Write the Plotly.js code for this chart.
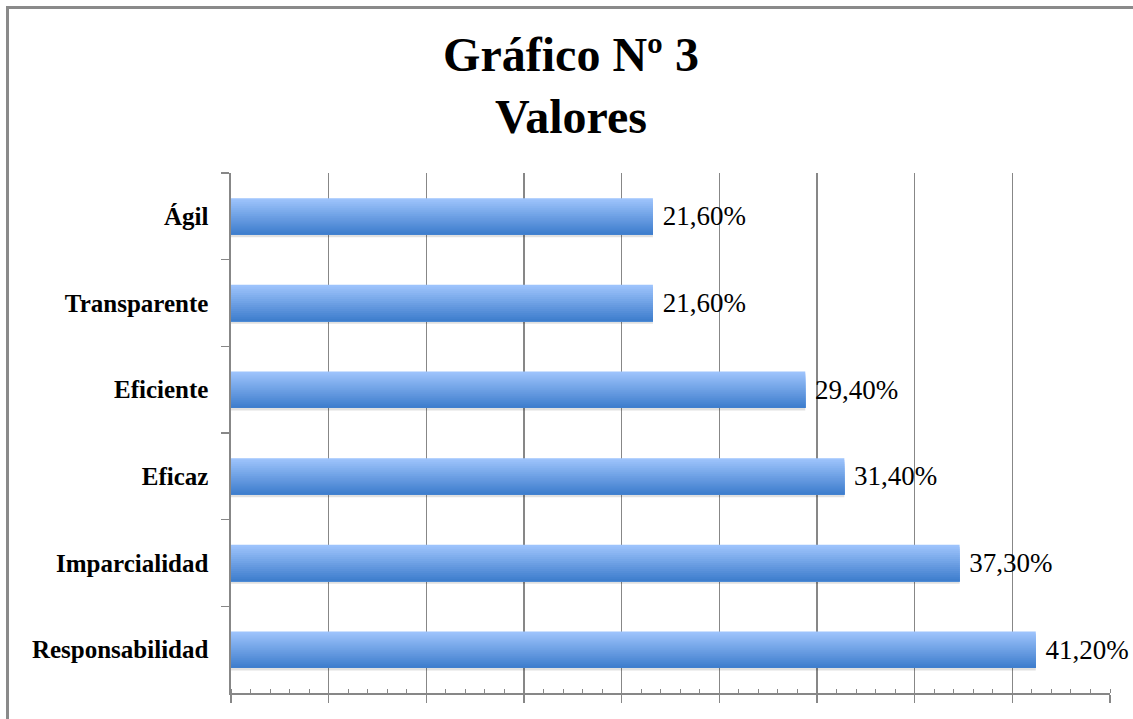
<!DOCTYPE html>
<html>
<head>
<meta charset="utf-8">
<script src="https://cdn.plot.ly/plotly-3.0.1.min.js"></script>
<style>
  html, body { margin: 0; padding: 0; background: #ffffff; width: 1133px; height: 719px; overflow: hidden; }
  #frame { position: absolute; left: 6px; top: 6px; border-left: 3px solid #8a8a8a; border-top: 3px solid #8a8a8a; }
  #chart { width: 1124px; height: 710px; }
</style>
</head>
<body>
<div id="frame"><div id="chart"></div></div>
<script>
// Data (top to bottom as shown)
const categories = ['Ágil', 'Transparente', 'Eficiente', 'Eficaz', 'Imparcialidad', 'Responsabilidad'];
const values = [21.6, 21.6, 29.4, 31.4, 37.3, 41.2];
const chartTitle = 'Gráfico Nº 3<br>Valores';

// Styling
const barWidth = 0.42;
const nStrips = 18;
const topColor = [160, 197, 253];
const botColor = [60, 124, 204];
const serif = '"Liberation Serif", "Times New Roman", serif';

const traces = [];

// soft shadow under the bars
traces.push({
  type: 'bar', orientation: 'h', x: values, y: categories,
  width: 0.05, offset: barWidth / 2 - 0.02,
  marker: { color: 'rgba(0,0,0,0.12)', line: { width: 0 } },
  hoverinfo: 'skip', showlegend: false
});

// vertical gradient: each layer runs from its start down to the bar bottom
const sw = barWidth / nStrips;
for (let i = 0; i < nStrips; i++) {
  const t = (i + 0.5) / nStrips; // 0 = top, 1 = bottom (y axis reversed)
  const c = topColor.map((v, k) => Math.round(v + (botColor[k] - v) * t));
  traces.push({
    type: 'bar', orientation: 'h', x: values, y: categories,
    width: barWidth - i * sw, offset: -barWidth / 2 + i * sw,
    marker: { color: 'rgb(' + c.join(',') + ')', line: { width: 0 } },
    hoverinfo: 'skip', showlegend: false
  });
}

// transparent full bar carrying the value labels
traces.push({
  type: 'bar', orientation: 'h', x: values, y: categories,
  width: barWidth, offset: -barWidth / 2,
  marker: { color: 'rgba(0,0,0,0)', line: { width: 0 } },
  texttemplate: '\u00a0%{x:.2f}%', textposition: 'outside', constraintext: 'none',
  cliponaxis: false,
  textfont: { family: serif, size: 27, color: '#000000' },
  hoverinfo: 'skip', showlegend: false
});

const layout = {
  width: 1124, height: 710,
  paper_bgcolor: '#ffffff', plot_bgcolor: '#ffffff',
  margin: { l: 222, r: 23, t: 164, b: 26 },
  barmode: 'overlay',
  separators: ',.',
  showlegend: false,
  title: {
    text: chartTitle,
    font: { family: serif, size: 48, color: '#000000', weight: 'bold' },
    x: 0.5, xref: 'container', xanchor: 'center',
    y: 1 - 62 / 710, yref: 'container', yanchor: 'middle'
  },
  xaxis: {
    range: [0, 45], dtick: 5, tick0: 0,
    showgrid: true, gridcolor: '#878787', gridwidth: 1.6,
    showticklabels: false,
    ticks: 'outside', ticklen: 8, tickwidth: 1.6, tickcolor: '#878787',
    minor: { dtick: 1, ticks: 'inside', ticklen: 4, tickwidth: 1, tickcolor: '#878787', showgrid: false },
    showline: true, linecolor: '#878787', linewidth: 1.6,
    zeroline: false, fixedrange: true
  },
  yaxis: {
    type: 'category', autorange: 'reversed',
    tickson: 'boundaries', ticks: 'outside', ticklen: 8, tickwidth: 1.6, tickcolor: '#878787',
    showline: true, linecolor: '#878787', linewidth: 1.6,
    showgrid: false, zeroline: false,
    ticklabelstandoff: 16,
    tickfont: { family: serif, size: 25, color: '#000000', weight: 'bold' },
    fixedrange: true
  }
};

Plotly.newPlot('chart', traces, layout, { displayModeBar: false, staticPlot: true });
</script>
</body>
</html>
